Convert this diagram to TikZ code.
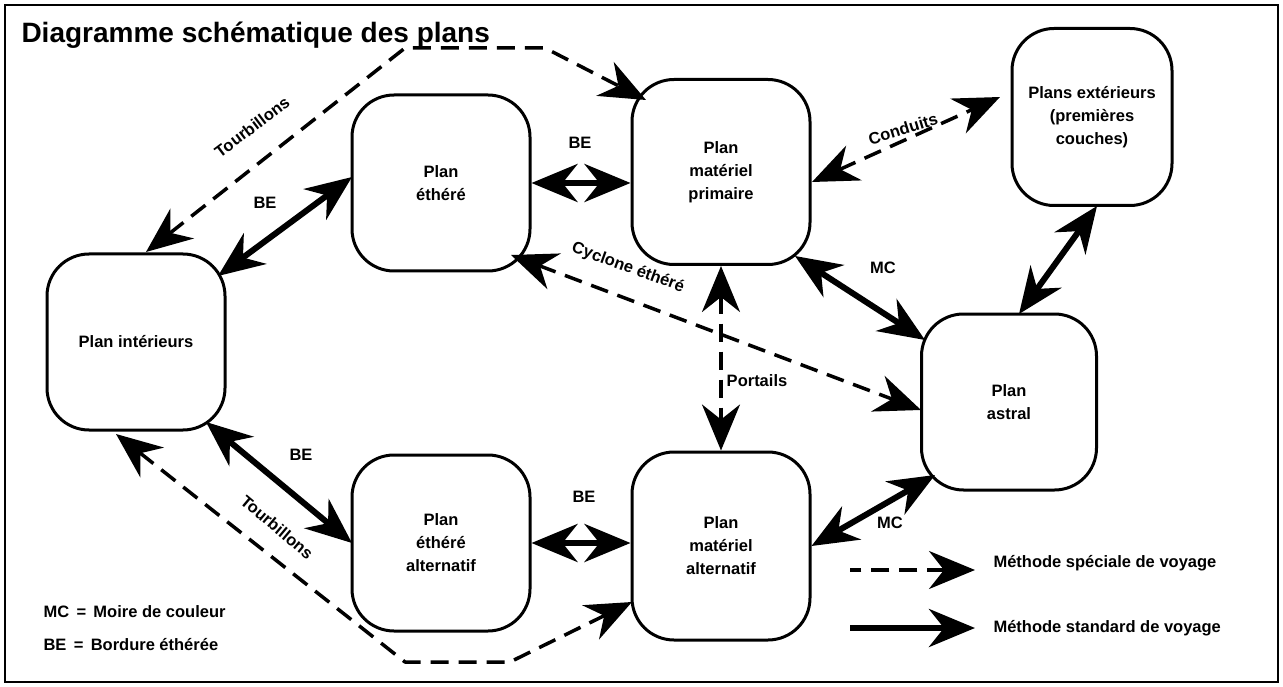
\documentclass[tikz,border=0pt]{standalone}
\usepackage{fontspec}
\setmainfont{Liberation Sans}
\usetikzlibrary{arrows.meta, calc}

\tikzset{
  big/.tip={Stealth[length=46pt,width=38pt,inset=15pt]},
  plan/.style={draw, line width=3pt, rounded corners=42pt, minimum width=178pt,
    minimum height=176pt, align=center, font=\fontsize{16.5}{23}\selectfont\bfseries},
  std/.style={line width=6pt, big-big},
  spec/.style={line width=3.5pt, dash pattern=on 18pt off 10pt, line join=round, big-big},
  lbl/.style={font=\fontsize{16.5}{18}\selectfont\bfseries},
}

\begin{document}
\begin{tikzpicture}[x=1pt, y=-1pt]
    \useasboundingbox (0,0) rectangle (1283,687);
    \draw[line width=1.5pt] (5,5) rectangle (1278,682);
    \node[anchor=west, font=\fontsize{28}{30}\selectfont\bfseries] (title) at (18,35) {Diagramme schématique des plans};

    % the planes
    \node[plan] (eth)    at (441,183) {Plan\\éthéré};
    \node[plan, minimum height=185pt] (prim) at (721,172) {Plan\\matériel\\primaire};
    \node[plan, minimum width=160pt, minimum height=177pt] (ext) at (1092,117) {Plans extérieurs\\(premières\\couches)};
    \node[plan] (int)    at (136,342) {Plan intérieurs};
    \node[plan, minimum width=175pt] (astral) at (1009,402) {Plan\\astral};
    \node[plan] (eth2)   at (441,543) {Plan\\éthéré\\alternatif};
    \node[plan, minimum height=188pt] (mat2) at (721,546) {Plan\\matériel\\alternatif};

    % standard connections
    \draw[std] (eth.east) -- (eth.east -| prim.west);
    \draw[std] ($(int.center)+(82,-66)$) -- ($(eth.center)+(-89,-6)$);
    \draw[std] ($(int.center)+(70,80)$) -- ($(eth2.center)+(-89,0)$);
    \draw[std] (eth2.east) -- (eth2.east -| mat2.west);
    \draw[std] ($(prim.center)+(74,84)$) -- ($(astral.center)+(-84,-62)$);
    \draw[std] ($(astral.center)+(-74,73)$) -- (mat2.east);
    \draw[std] ($(ext.center)+(5,89)$) -- ($(astral.center)+(10,-88)$);

    % special connections
    \draw[spec] (prim.south) -- (mat2.north);
    \draw[spec] ($(eth.center)+(70,72)$) -- ($(astral.center)+(-88,8)$);
    \draw[spec] ($(prim.center)+(91,10)$) -- ($(ext.center)+(-92,-20)$);
    \draw[spec] ($(int.center)+(10,-90)$) -- (405,48) -- (545,48) -- ($(prim.center)+(-75,-72)$);
    \draw[spec] ($(int.center)+(-20,92)$) -- (405,662) -- (510,662) -- ($(mat2.center)+(-89,56)$);

    % labels
    \node[lbl] (be1) at (580,143) {BE};
    \node[lbl] (be2) at (265,203) {BE};
    \node[lbl] (be3) at (301,455) {BE};
    \node[lbl] (be4) at (584,497) {BE};
    \node[lbl] (mc1) at (883,268) {MC};
    \node[lbl] (mc2) at (890,523) {MC};
    \node[lbl, fill=white, inner sep=2pt] (portails) at (757,381) {Portails};
    \node[lbl, rotate=-20] (cyclone) at (628,268) {Cyclone éthéré};
    \node[lbl, rotate=17] (conduits) at (903,129) {Conduits};
    \node[lbl, rotate=37] (tourb1) at (252,127) {Tourbillons};
    \node[lbl, rotate=-40] (tourb2) at (277,527) {Tourbillons};

    % legend
    \coordinate (ls1) at (850,570);
    \coordinate (le1) at (975,570);
    \coordinate (ls2) at (850,628);
    \coordinate (le2) at (975,628);
    \draw[spec, big-] (le1) -- (ls1);
    \draw[std, big-] (le2) -- (ls2);
    \node[lbl, anchor=west] (leg1) at (990,563) {Méthode spéciale de voyage};
    \node[lbl, anchor=west] (leg2) at (990,628) {Méthode standard de voyage};
    \node[lbl, anchor=west] (mc) at (40,612) {MC \,=\, Moire de couleur};
    \node[lbl, anchor=west] (be) at (40,645) {BE \,=\, Bordure éthérée};
\end{tikzpicture}
\end{document}
